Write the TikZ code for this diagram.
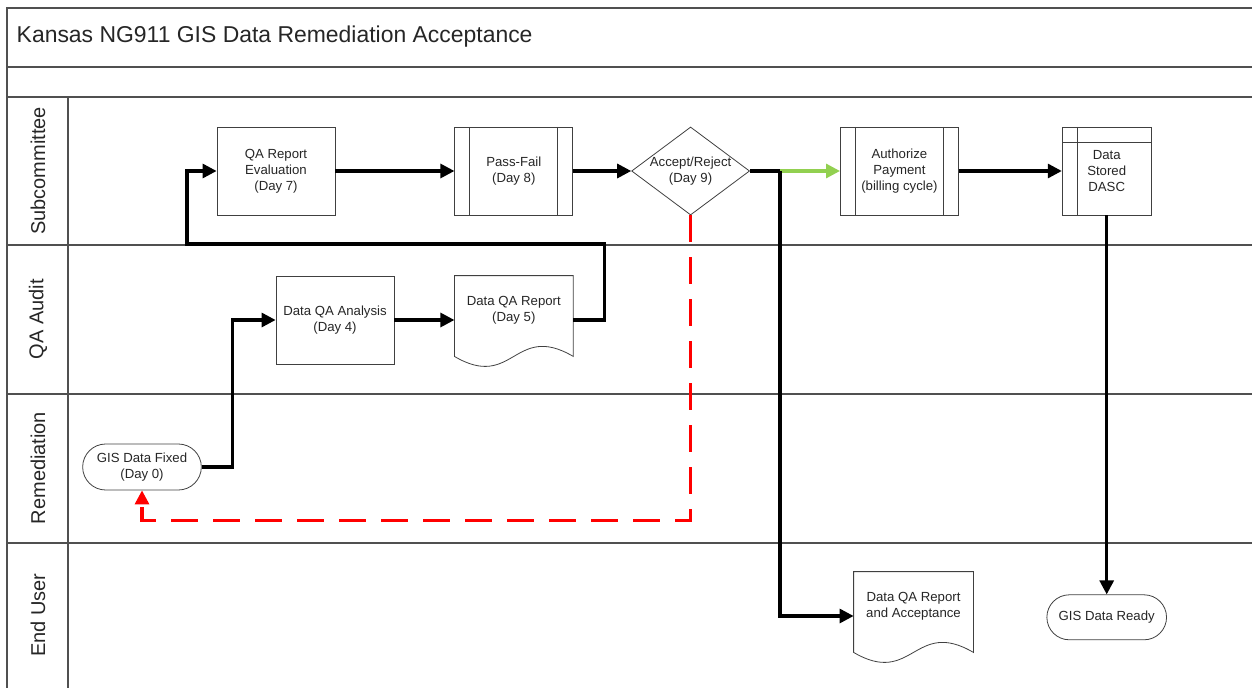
\documentclass[tikz,border=0pt]{standalone}
\usepackage{fontspec}
\setmainfont{Liberation Sans}
\usetikzlibrary{arrows.meta,positioning,shapes.geometric,shapes.misc}

\definecolor{lanegray}{HTML}{505050}
\definecolor{boxgray}{HTML}{404040}
\definecolor{okgreen}{HTML}{92D050}

% outline of a document shape round a docbox node
\newcommand{\docoutline}[1]{%
  \draw[boxgray, line width=0.6pt] (#1.north west) -- (#1.north east)
    -- ([yshift=-9pt]#1.south east)
    .. controls +(-44.25pt,26pt) and +(44.25pt,-26pt) .. ([yshift=-9pt]#1.south west)
    -- cycle;}

\begin{document}
\begin{tikzpicture}[x=0.75pt, y=-0.75pt,
  frame/.style={draw=lanegray, line width=0.9pt},
  box/.style={draw=boxgray, line width=0.6pt, align=center, inner sep=2pt, text=black!85,
              font=\fontsize{9.9}{12}\selectfont, minimum width=88.5pt, minimum height=66pt},
  procbox/.style={box, path picture={
      \draw[boxgray, line width=0.6pt]
        ([xshift=11.25pt]path picture bounding box.north west) -- ([xshift=11.25pt]path picture bounding box.south west)
        ([xshift=-11.25pt]path picture bounding box.north east) -- ([xshift=-11.25pt]path picture bounding box.south east);}},
  storebox/.style={box, minimum width=66.75pt, path picture={
      \draw[boxgray, line width=0.6pt]
        ([xshift=11.25pt]path picture bounding box.north west) -- ([xshift=11.25pt]path picture bounding box.south west)
        ([yshift=-11.25pt]path picture bounding box.north west) -- ([yshift=-11.25pt]path picture bounding box.north east);}},
  docbox/.style={box, draw=none, minimum height=51pt},
  decision/.style={box, diamond, aspect=1.34, inner sep=-1pt},
  terminal/.style={box, rounded rectangle, minimum width=93pt, minimum height=34.5pt},
  lanelabel/.style={rotate=90, text=black!85, font=\fontsize{15}{18}\selectfont},
  arr/.style={-{Triangle[length=10.5pt,width=10.5pt]}, line width=2.3pt},
  link/.style={line width=2.3pt},
  back/.style={arr, red, dash pattern=on 20.25pt off 11.25pt}]
\useasboundingbox (0,0) rectangle (1252,688);

% pool and lanes
\draw[frame, line width=1.3pt] (7,688) -- (7,8) -- (1252,8);
\draw[frame, line width=1.3pt] (7,67) -- (1252,67);
\draw[frame, line width=1.3pt] (7,97) -- (1252,97);
\draw[frame] (68,97) -- (68,688);
\draw[frame] (7,245) -- (1252,245);
\draw[frame] (7,394) -- (1252,394);
\draw[frame] (7,543) -- (1252,543);

\node[anchor=west, text=black!85, font=\fontsize{17.2}{20}\selectfont] (title) at (12,37)
  {Kansas NG911 GIS Data Remediation Acceptance};
\node[lanelabel] (lsub) at (38,171) {Subcommittee};
\node[lanelabel] (lqa) at (38,319) {QA Audit};
\node[lanelabel] (lrem) at (38,468) {Remediation};
\node[lanelabel] (luser) at (38,615) {End User};

% subcommittee
\node[box] (eval) at (276,171) {QA Report\\ Evaluation\\ (Day 7)};
\node[procbox, right=89.25pt of eval] (pass) {Pass-Fail\\ (Day 8)};
\node[decision, right=43.5pt of pass] (decide) {Accept/Reject\\ (Day 9)};
\node[procbox, right=67.5pt of decide] (auth) {Authorize\\ Payment\\ (billing cycle)};
\node[storebox, right=77.25pt of auth] (stored) {Data\\ Stored\\ DASC};

% QA audit
\node[box] (anal) at (335,320) {Data QA Analysis\\ (Day 4)};
\node[docbox, right=45pt of anal, yshift=7.5pt] (rep) {Data QA Report\\ (Day 5)};
\docoutline{rep}

% remediation
\node[terminal] (fixed) at (142,467) {GIS Data Fixed\\ (Day 0)};

% end user
\node[docbox, minimum width=89.25pt] (accrep) at (913.5,606) {Data QA Report\\ and Acceptance};
\docoutline{accrep}
\node[terminal, minimum width=93.75pt, minimum height=33.75pt, below=284.25pt of stored] (ready) {GIS Data Ready};

% connectors
\coordinate (bend) at (187,244);
\coordinate (split) at (780,171);
\draw[arr] (fixed.east) -- ++(31,0) |- (anal.west);
\draw[arr] (anal.east) -- ([yshift=-7.5pt]rep.west);
\draw[arr] ([yshift=-7.5pt]rep.east) -- ++(31,0) |- (bend) |- (eval.west);
\draw[arr] (eval) -- (pass);
\draw[arr] (pass) -- (decide);
\draw[link] (decide.east) -- (split);
\draw[arr, okgreen] (split) -- (auth.west);
\draw[arr] (split) |- ([yshift=-7.5pt]accrep.west);
\draw[arr] (auth) -- (stored);
\draw[arr] (stored.south) -- (ready.north);
\draw[back] (decide.south) -- ++(0,305) -| (fixed.south);
\end{tikzpicture}
\end{document}
